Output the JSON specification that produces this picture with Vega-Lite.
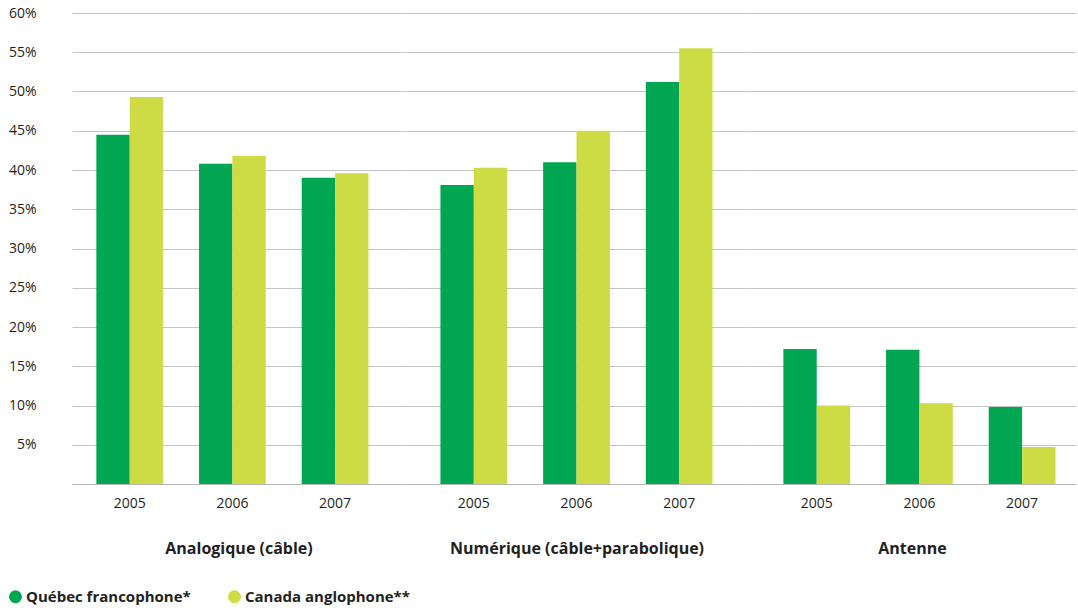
{
  "$schema": "https://vega.github.io/schema/vega-lite/v6.json",
  "background": "white",
  "padding": {"left": 8, "top": 6, "right": 0, "bottom": 0},
  "data": {"values": [
    {"groupe": "Analogique (câble)", "annee": "2005", "serie": "Québec francophone*", "valeur": 44.5},
    {"groupe": "Analogique (câble)", "annee": "2005", "serie": "Canada anglophone**", "valeur": 49.3},
    {"groupe": "Analogique (câble)", "annee": "2006", "serie": "Québec francophone*", "valeur": 40.8},
    {"groupe": "Analogique (câble)", "annee": "2006", "serie": "Canada anglophone**", "valeur": 41.8},
    {"groupe": "Analogique (câble)", "annee": "2007", "serie": "Québec francophone*", "valeur": 39.0},
    {"groupe": "Analogique (câble)", "annee": "2007", "serie": "Canada anglophone**", "valeur": 39.6},
    {"groupe": "Numérique (câble+parabolique)", "annee": "2005", "serie": "Québec francophone*", "valeur": 38.1},
    {"groupe": "Numérique (câble+parabolique)", "annee": "2005", "serie": "Canada anglophone**", "valeur": 40.3},
    {"groupe": "Numérique (câble+parabolique)", "annee": "2006", "serie": "Québec francophone*", "valeur": 41.0},
    {"groupe": "Numérique (câble+parabolique)", "annee": "2006", "serie": "Canada anglophone**", "valeur": 45.0},
    {"groupe": "Numérique (câble+parabolique)", "annee": "2007", "serie": "Québec francophone*", "valeur": 51.2},
    {"groupe": "Numérique (câble+parabolique)", "annee": "2007", "serie": "Canada anglophone**", "valeur": 55.5},
    {"groupe": "Antenne", "annee": "2005", "serie": "Québec francophone*", "valeur": 17.2},
    {"groupe": "Antenne", "annee": "2005", "serie": "Canada anglophone**", "valeur": 10.0},
    {"groupe": "Antenne", "annee": "2006", "serie": "Québec francophone*", "valeur": 17.1},
    {"groupe": "Antenne", "annee": "2006", "serie": "Canada anglophone**", "valeur": 10.3},
    {"groupe": "Antenne", "annee": "2007", "serie": "Québec francophone*", "valeur": 9.8},
    {"groupe": "Antenne", "annee": "2007", "serie": "Canada anglophone**", "valeur": 4.7}
  ]},
  "spacing": 0,
  "resolve": {"scale": {"y": "shared", "color": "shared"}, "legend": {"color": "shared"}},
  "hconcat": [
    {
      "width": 333,
      "height": 471,
      "transform": [{"filter": "datum.groupe == 'Analogique (câble)'"}],
      "mark": {"type": "bar"},
      "encoding": {
        "x": {
          "field": "annee", "type": "nominal", "title": "Analogique (câble)",
          "scale": {"paddingInner": 0.35, "paddingOuter": 0.2966, "align": 0.4}
        },
        "xOffset": {"field": "serie", "type": "nominal", "sort": ["Québec francophone*", "Canada anglophone**"]},
        "y": {
          "field": "valeur", "type": "quantitative", "title": null,
          "scale": {"domain": [0, 60]},
          "axis": {
            "values": [0, 5, 10, 15, 20, 25, 30, 35, 40, 45, 50, 55, 60],
            "labelExpr": "datum.value == 0 ? '' : datum.value + '%'",
            "labelPadding": 36
          }
        },
        "color": {
          "field": "serie", "type": "nominal",
          "scale": {"domain": ["Québec francophone*", "Canada anglophone**"], "range": ["#00a651", "#cddc44"]},
          "legend": {
            "title": null,
            "orient": "none",
            "legendX": -64,
            "legendY": 576,
            "direction": "horizontal",
            "symbolType": "circle",
            "symbolSize": 170,
            "symbolStrokeWidth": 0,
            "labelFont": "Open Sans",
            "labelFontSize": 15,
            "labelFontWeight": "bold",
            "labelColor": "#231f20",
            "labelLimit": 0,
            "columnPadding": 36,
            "labelOffset": 3
          }
        }
      }
    },
    {
      "width": 343,
      "height": 471,
      "transform": [{"filter": "datum.groupe == 'Numérique (câble+parabolique)'"}],
      "mark": {"type": "bar"},
      "encoding": {
        "x": {
          "field": "annee", "type": "nominal", "title": "Numérique (câble+parabolique)",
          "scale": {"paddingInner": 0.35, "paddingOuter": 0.345, "align": 0.5}
        },
        "xOffset": {"field": "serie", "type": "nominal", "sort": ["Québec francophone*", "Canada anglophone**"]},
        "y": {
          "field": "valeur", "type": "quantitative", "title": null,
          "scale": {"domain": [0, 60]},
          "axis": {"values": [0, 5, 10, 15, 20, 25, 30, 35, 40, 45, 50, 55, 60], "labels": false}
        },
        "color": {"field": "serie", "type": "nominal"}
      }
    },
    {
      "width": 328,
      "height": 471,
      "transform": [{"filter": "datum.groupe == 'Antenne'"}],
      "mark": {"type": "bar"},
      "encoding": {
        "x": {
          "field": "annee", "type": "nominal", "title": "Antenne",
          "scale": {"paddingInner": 0.35, "paddingOuter": 0.272, "align": 0.633}
        },
        "xOffset": {"field": "serie", "type": "nominal", "sort": ["Québec francophone*", "Canada anglophone**"]},
        "y": {
          "field": "valeur", "type": "quantitative", "title": null,
          "scale": {"domain": [0, 60]},
          "axis": {"values": [0, 5, 10, 15, 20, 25, 30, 35, 40, 45, 50, 55, 60], "labels": false}
        },
        "color": {"field": "serie", "type": "nominal"}
      }
    }
  ],
  "config": {
    "view": {"stroke": null},
    "font": "Open Sans",
    "axisX": {
      "labelAngle": 0,
      "labelFont": "Open Sans",
      "labelFontSize": 14,
      "labelColor": "#231f20",
      "labelPadding": 12,
      "ticks": false,
      "domainColor": "#b8b8b8",
      "domainWidth": 1.2,
      "titleFont": "Open Sans",
      "titleFontSize": 16,
      "titleFontWeight": "bold",
      "titleColor": "#231f20",
      "titlePadding": 30
    },
    "axisY": {
      "labelFont": "Open Sans",
      "labelFontSize": 14,
      "labelColor": "#231f20",
      "domain": false,
      "ticks": false,
      "gridColor": "#c4c4c4",
      "gridWidth": 1.2
    }
  }
}
